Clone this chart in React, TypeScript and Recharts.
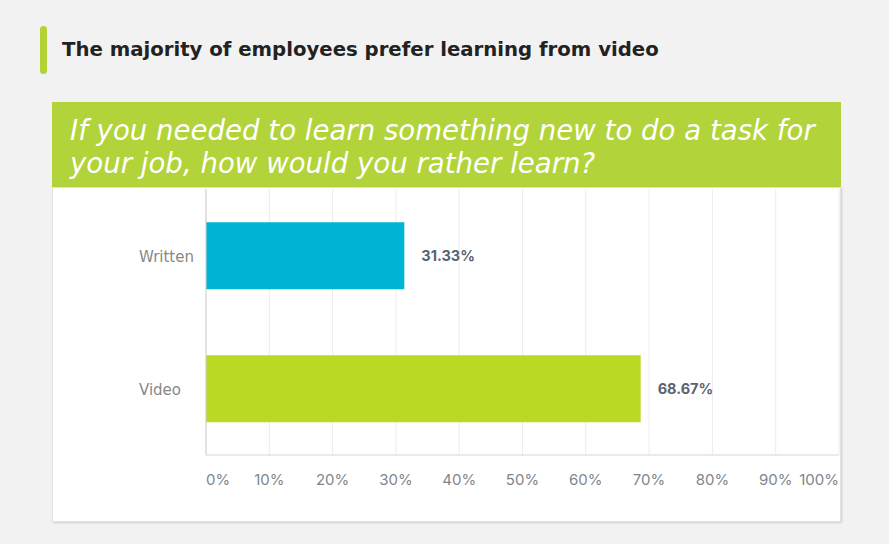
import { Bar, BarChart, CartesianGrid, Cell, LabelList, XAxis, YAxis } from "recharts";

const CATEGORIES = ["Written", "Video"];
const SHARES = [31.33, 68.67];
const BAR_COLORS = ["#00b4d5", "#b9d922"];
const PCT_TICKS = [0, 10, 20, 30, 40, 50, 60, 70, 80, 90, 100];

const rows = CATEGORIES.map((name, i) => ({ name, share: SHARES[i] }));

// first and last percentage labels are pulled inside the plot, like the original
const PctTick = (props: any) => {
  const { x, y, payload } = props;
  const v = payload.value;
  const anchor = v === PCT_TICKS[0] ? "start" : v === PCT_TICKS[PCT_TICKS.length - 1] ? "end" : "middle";
  return (
    <text
      x={x}
      y={y + 18}
      textAnchor={anchor}
      dominantBaseline="middle"
      fill="#80858d"
      fontSize={15}
      fontFamily="Inter, sans-serif"
    >
      {`${v}%`}
    </text>
  );
};

// category names are left aligned in the original
const NameTick = (props: any) => {
  const { y, payload } = props;
  return (
    <text
      x={86}
      y={y + 2}
      textAnchor="start"
      dominantBaseline="middle"
      fill="#888"
      fontSize={15}
      fontFamily="'DejaVu Sans', sans-serif"
    >
      {payload.value}
    </text>
  );
};

export default function App() {
  return (
    <div
      style={{
        position: "absolute",
        left: 0,
        top: 0,
        width: 889,
        height: 544,
        background: "#f2f2f2",
        overflow: "hidden",
      }}
    >
      <div
        style={{
          position: "absolute",
          left: 40,
          top: 26,
          width: 7,
          height: 48,
          borderRadius: 4,
          background: "#b3d334",
        }}
      />
      <div
        style={{
          position: "absolute",
          left: 62,
          top: 38,
          fontFamily: "'DejaVu Sans', sans-serif",
          fontWeight: "bold",
          fontSize: 19.7,
          lineHeight: "24px",
          color: "#222",
          whiteSpace: "nowrap",
        }}
      >
        The majority of employees prefer learning from video
      </div>
      <div
        style={{
          position: "absolute",
          left: 52,
          top: 102,
          width: 789,
          height: 85,
          background: "#b3d33a",
          boxSizing: "border-box",
          padding: "12px 18px",
          color: "#fff",
          fontFamily: "'DejaVu Sans', sans-serif",
          fontStyle: "italic",
          fontSize: 27.6,
          lineHeight: "33px",
          whiteSpace: "nowrap",
        }}
      >
        If you needed to learn something new to do a task for
        <br />
        your job, how would you rather learn?
      </div>
      <div
        style={{
          position: "absolute",
          left: 52,
          top: 187,
          width: 789,
          height: 335,
          background: "#fff",
          boxSizing: "border-box",
          border: "1px solid #e2e2e2",
          boxShadow: "1px 1px 2px rgba(0,0,0,0.15)",
        }}
      >
        <BarChart
          width={787}
          height={333}
          data={rows}
          layout="vertical"
          margin={{ top: 1, right: 1, bottom: 36, left: 0 }}
          barCategoryGap="25%"
        >
          <CartesianGrid horizontal={false} stroke="#ececec" />
          <XAxis
            type="number"
            domain={[0, 100]}
            ticks={PCT_TICKS}
            interval={0}
            axisLine={{ stroke: "#d6d6d6" }}
            tickLine={false}
            tick={<PctTick />}
            height={30}
          />
          <YAxis
            type="category"
            dataKey="name"
            width={153}
            axisLine={{ stroke: "#d0d0d0" }}
            tickLine={false}
            tick={<NameTick />}
          />
          <Bar dataKey="share" isAnimationActive={false}>
            {rows.map((r, i) => (
              <Cell key={r.name} fill={BAR_COLORS[i]} />
            ))}
            <LabelList
              dataKey="share"
              position="right"
              offset={17}
              formatter={(v: any) => `${Number(v).toFixed(2)}%`}
              fill="#5a6371"
              fontSize={14.5}
              fontWeight="bold"
              fontFamily="Inter, sans-serif"
            />
          </Bar>
        </BarChart>
      </div>
    </div>
  );
}
